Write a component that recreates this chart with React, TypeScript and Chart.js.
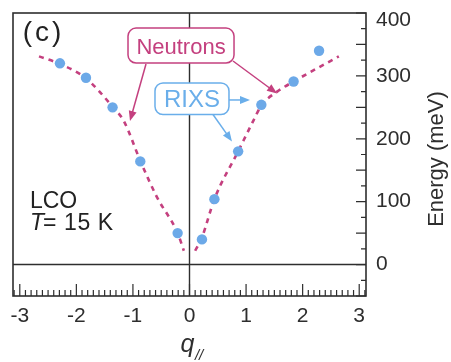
import React, { useEffect, useRef } from 'react';
import { Chart, registerables } from 'chart.js';

Chart.register(...registerables);

// ---- data ----
const rixsQ = [-2.29, -1.83, -1.36, -0.87, -0.21, 0.22, 0.44, 0.86, 1.27, 1.84, 2.29];
const rixsE = [320, 297, 250, 164, 50, 40, 104, 180, 254, 291, 340];

const neutronLeftQ = [-2.66, -2.29, -1.83, -1.36, -1.16, -0.87, -0.58, -0.21, -0.1];
const neutronLeftE = [331, 319, 296, 251, 228, 165, 108, 50, 22];
const neutronRightQ = [0.1, 0.22, 0.44, 0.86, 1.13, 1.27, 1.55, 1.84, 2.64];
const neutronRightE = [22, 43, 104, 180, 229, 253, 275, 291, 331];

const xTickValues = [-3, -2, -1, 0, 1, 2, 3];
const yTickValues = [0, 100, 200, 300, 400];

const X_MIN = -3.12;
const X_MAX = 3.12;
const Y_MIN = -50;
const Y_MAX = 400;

const MAGENTA = '#c4407f';
const BLUE_PT = '#6ca9e8';
const BLUE_TXT = '#6aaeea';
const AXIS = '#2e2e2e';
const FONT = '"Liberation Sans", Arial, Helvetica, sans-serif';

const toXY = (xs: number[], ys: number[]) => xs.map((v, i) => ({ x: v, y: ys[i] }));

function arrow(ctx: CanvasRenderingContext2D, x1: number, y1: number, x2: number, y2: number, color: string) {
  const ang = Math.atan2(y2 - y1, x2 - x1);
  const hl = 10;
  const hw = 4;
  ctx.save();
  ctx.strokeStyle = color;
  ctx.fillStyle = color;
  ctx.lineWidth = 1.5;
  ctx.beginPath();
  ctx.moveTo(x1, y1);
  ctx.lineTo(x2 - Math.cos(ang) * hl * 0.8, y2 - Math.sin(ang) * hl * 0.8);
  ctx.stroke();
  ctx.beginPath();
  ctx.moveTo(x2, y2);
  ctx.lineTo(x2 - Math.cos(ang) * hl + Math.sin(ang) * hw, y2 - Math.sin(ang) * hl - Math.cos(ang) * hw);
  ctx.lineTo(x2 - Math.cos(ang) * hl - Math.sin(ang) * hw, y2 - Math.sin(ang) * hl + Math.cos(ang) * hw);
  ctx.closePath();
  ctx.fill();
  ctx.restore();
}

function roundRect(ctx: CanvasRenderingContext2D, x: number, y: number, w: number, h: number, r: number) {
  ctx.beginPath();
  ctx.moveTo(x + r, y);
  ctx.lineTo(x + w - r, y);
  ctx.arcTo(x + w, y, x + w, y + r, r);
  ctx.lineTo(x + w, y + h - r);
  ctx.arcTo(x + w, y + h, x + w - r, y + h, r);
  ctx.lineTo(x + r, y + h);
  ctx.arcTo(x, y + h, x, y + h - r, r);
  ctx.lineTo(x, y + r);
  ctx.arcTo(x, y, x + r, y, r);
  ctx.closePath();
}

const framePlugin = {
  id: 'frame',
  beforeDatasetsDraw(chart: any) {
    const { ctx, chartArea, scales } = chart;
    const { left, right, top, bottom } = chartArea;
    const xs = scales.x;
    const ys = scales.y;
    ctx.save();
    ctx.strokeStyle = AXIS;
    ctx.lineWidth = 1.4;
    const x0 = xs.getPixelForValue(0);
    const y0 = ys.getPixelForValue(0);
    ctx.beginPath();
    ctx.moveTo(left, y0);
    ctx.lineTo(right, y0);
    ctx.moveTo(x0, top);
    ctx.lineTo(x0, bottom);
    ctx.stroke();
    ctx.lineWidth = 1.6;
    ctx.strokeRect(left, top, right - left, bottom - top);
    ctx.lineWidth = 1.2;
    ctx.beginPath();
    for (let i = -31; i <= 31; i++) {
      const px = xs.getPixelForValue(i / 10);
      const len = i % 10 === 0 ? 12 : 6;
      ctx.moveTo(px, bottom);
      ctx.lineTo(px, bottom - len);
    }
    for (let v = Y_MIN; v <= Y_MAX; v += 25) {
      const py = ys.getPixelForValue(v);
      const len = v % 50 === 0 ? 10 : 5;
      ctx.moveTo(right, py);
      ctx.lineTo(right - len, py);
    }
    ctx.stroke();
    ctx.restore();
  },
  afterDatasetsDraw(chart: any) {
    const { ctx, chartArea, scales } = chart;
    const xs = scales.x;
    const ys = scales.y;
    const X = (v: number) => xs.getPixelForValue(v);
    const Y = (v: number) => ys.getPixelForValue(v);
    ctx.save();

    // Neutrons box
    {
      const x1 = X(-1.087), x2 = X(0.787), y1 = Y(376), y2 = Y(320.5);
      roundRect(ctx, x1, y1, x2 - x1, y2 - y1, 8);
      ctx.fillStyle = '#ffffff';
      ctx.fill();
      ctx.strokeStyle = MAGENTA;
      ctx.lineWidth = 1.5;
      ctx.stroke();
      ctx.fillStyle = MAGENTA;
      ctx.font = `22px ${FONT}`;
      ctx.textAlign = 'center';
      ctx.textBaseline = 'alphabetic';
      ctx.fillText('Neutrons', (x1 + x2) / 2, (y1 + y2) / 2 + 8);
    }
    arrow(ctx, X(-0.769), Y(318.9), X(-1.052), Y(228.3), MAGENTA);
    arrow(ctx, X(0.769), Y(323.7), X(1.547), Y(272), MAGENTA);

    // RIXS box
    {
      const x1 = X(-0.61), x2 = X(0.698), y1 = Y(288.7), y2 = Y(238.6);
      roundRect(ctx, x1, y1, x2 - x1, y2 - y1, 8);
      ctx.fillStyle = '#ffffff';
      ctx.fill();
      ctx.strokeStyle = BLUE_TXT;
      ctx.lineWidth = 1.5;
      ctx.stroke();
      ctx.fillStyle = BLUE_TXT;
      ctx.font = `24px ${FONT}`;
      ctx.textAlign = 'center';
      ctx.textBaseline = 'alphabetic';
      ctx.fillText('RIXS', (x1 + x2) / 2, (y1 + y2) / 2 + 8.5);
    }
    arrow(ctx, X(0.698), Y(261.7), X(1.07), Y(261.7), BLUE_TXT);
    arrow(ctx, X(0.415), Y(238.6), X(0.751), Y(195.7), BLUE_TXT);

    // panel label and sample text
    ctx.fillStyle = '#222222';
    ctx.textAlign = 'left';
    ctx.textBaseline = 'alphabetic';
    ctx.font = `28px ${FONT}`;
    (ctx as any).letterSpacing = '3px';
    ctx.fillText('(c)', X(-2.948), Y(356));
    (ctx as any).letterSpacing = '0px';
    ctx.font = `23px ${FONT}`;
    ctx.fillText('LCO', X(-2.82), Y(90));
    ctx.font = `italic 23px ${FONT}`;
    const tx = X(-2.82);
    const tyy = Y(55);
    ctx.fillText('T', tx, tyy);
    const tw = ctx.measureText('T').width;
    ctx.font = `23px ${FONT}`;
    (ctx as any).letterSpacing = '0.6px';
    ctx.fillText('= 15 K', tx + tw - 1, tyy);
    (ctx as any).letterSpacing = '0px';

    // top y label (pushed inside the frame, as in the reference)
    ctx.fillStyle = AXIS;
    ctx.font = `21px ${FONT}`;
    ctx.textBaseline = 'middle';
    ctx.fillText(String(yTickValues[yTickValues.length - 1]), chartArea.right + 10, Y(400) + 7.5);

    // y axis title (reads bottom to top)
    ctx.save();
    ctx.translate(chart.width - 8, (chartArea.top + chartArea.bottom) / 2 + 4.5);
    ctx.rotate(-Math.PI / 2);
    ctx.textAlign = 'center';
    ctx.textBaseline = 'alphabetic';
    ctx.font = `22px ${FONT}`;
    ctx.fillStyle = AXIS;
    ctx.fillText('Energy (meV)', 0, 0);
    ctx.restore();

    // x axis title q_//
    ctx.fillStyle = AXIS;
    ctx.textAlign = 'left';
    ctx.textBaseline = 'alphabetic';
    ctx.font = `italic 25px ${FONT}`;
    const qx = X(0) - 9;
    ctx.fillText('q', qx, 352);
    const qw = ctx.measureText('q').width;
    ctx.font = `italic 15px ${FONT}`;
    ctx.fillText('//', qx + qw + 0.5, 360);

    ctx.restore();
  },
};

export default function App() {
  const ref = useRef<HTMLCanvasElement | null>(null);
  useEffect(() => {
    if (!ref.current) return;
    const chart = new Chart(ref.current, {
      type: 'scatter',
      data: {
        datasets: [
          {
            label: 'RIXS',
            data: toXY(rixsQ, rixsE),
            backgroundColor: BLUE_PT,
            borderColor: BLUE_PT,
            pointRadius: 5.2,
            pointBorderWidth: 0,
            showLine: false,
            order: 0,
          },
          {
            label: 'Neutrons L',
            data: toXY(neutronLeftQ, neutronLeftE),
            borderColor: MAGENTA,
            borderWidth: 2.6,
            borderDash: [5, 5],
            pointRadius: 0,
            showLine: true,
            cubicInterpolationMode: 'monotone',
            order: 1,
          },
          {
            label: 'Neutrons R',
            data: toXY(neutronRightQ, neutronRightE),
            borderColor: MAGENTA,
            borderWidth: 2.6,
            borderDash: [5, 5],
            pointRadius: 0,
            showLine: true,
            cubicInterpolationMode: 'monotone',
            order: 1,
          },
        ],
      },
      options: {
        responsive: false,
        animation: false,
        devicePixelRatio: 1,
        layout: { padding: { left: 13, top: 13, right: 0, bottom: 0 } },
        plugins: { legend: { display: false }, tooltip: { enabled: false } },
        scales: {
          x: {
            type: 'linear',
            position: 'bottom',
            min: X_MIN,
            max: X_MAX,
            grid: { display: false, drawTicks: false },
            border: { display: false },
            afterBuildTicks: (s: any) => {
              s.ticks = xTickValues.map((v) => ({ value: v }));
            },
            afterFit: (s: any) => {
              s.height = 66;
              s.paddingLeft = 0;
              s.paddingRight = 0;
            },
            ticks: {
              autoSkip: false,
              maxRotation: 0,
              padding: 8,
              color: AXIS,
              font: { family: FONT, size: 21 },
              callback: (v: any) => String(v),
            },
          },
          y: {
            type: 'linear',
            position: 'right',
            min: Y_MIN,
            max: Y_MAX,
            grid: { display: false, drawTicks: false },
            border: { display: false },
            afterBuildTicks: (s: any) => {
              s.ticks = yTickValues.map((v) => ({ value: v }));
            },
            afterFit: (s: any) => {
              s.width = 85;
              s.paddingTop = 0;
              s.paddingBottom = 0;
            },
            ticks: {
              autoSkip: false,
              padding: 10,
              color: AXIS,
              font: { family: FONT, size: 21 },
              callback: (v: any) => (v === Y_MAX ? '' : String(v)),
            },
          },
        },
      },
      plugins: [framePlugin],
    } as any);
    return () => chart.destroy();
  }, []);
  return (
    <div style={{ position: 'absolute', left: 0, top: 0, width: 451, height: 362, background: '#fff' }}>
      <canvas ref={ref} width={451} height={362} />
    </div>
  );
}
